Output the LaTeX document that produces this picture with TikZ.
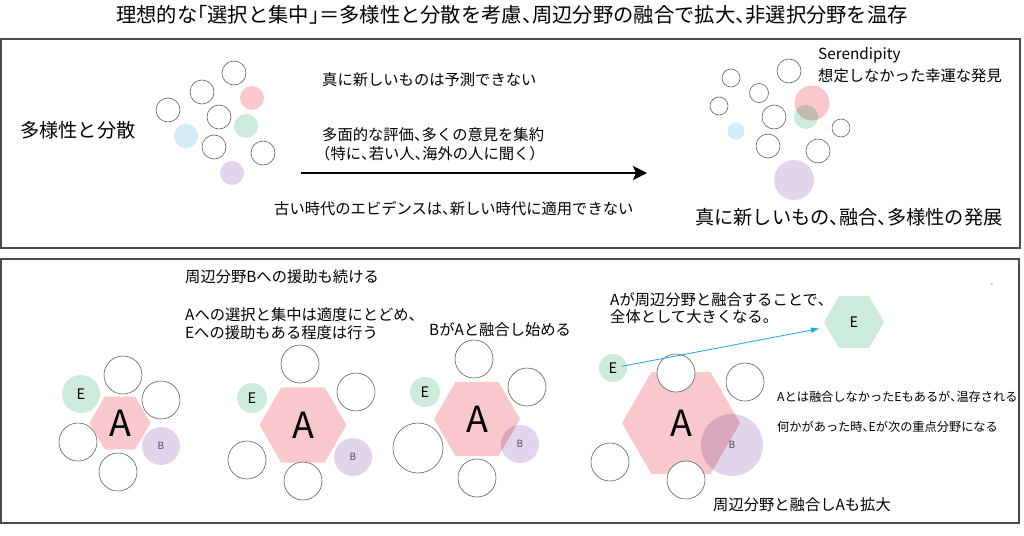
\documentclass[tikz,border=0pt]{standalone}
\usepackage{fontspec}
\setmainfont{Noto Sans CJK JP}
\usetikzlibrary{shapes.geometric,arrows.meta}
\newcommand\jtc{\makebox[0.5em][l]{、}}
\newcommand\jtk{\makebox[0.5em][l]{。}}
\newcommand\jlq{\makebox[0.5em][r]{「}}
\newcommand\jrq{\makebox[0.5em][l]{」}}
\definecolor{pk}{RGB}{248,200,204}
\definecolor{gr}{RGB}{205,235,218}
\definecolor{bl}{RGB}{211,234,248}
\definecolor{pu}{RGB}{224,213,234}
\definecolor{ln}{RGB}{95,95,95}
\definecolor{fr}{RGB}{75,75,75}
\definecolor{cy}{RGB}{41,171,226}
\definecolor{bt}{RGB}{100,88,112}
\tikzset{
 ring/.style={circle,draw=ln,line width=0.6pt,fill=white,inner sep=0pt,minimum size=#1},
 blob/.style 2 args={circle,fill=#1,blend mode=multiply,inner sep=0pt,minimum size=#2},
 hexa/.style 2 args={regular polygon,regular polygon sides=6,fill=#1,blend mode=multiply,inner sep=0pt,minimum size=#2},
 txt/.style={anchor=west,inner sep=0pt,font=\fontsize{15.3}{18}\selectfont},
 big/.style={anchor=west,inner sep=0pt,font=\fontsize{19.2}{22}\selectfont},
 small/.style={anchor=west,inner sep=0pt,font=\fontsize{12.2}{14}\selectfont},
 boxline/.style={draw=fr,line width=1.3pt},
 bigA/.style={font=\fontsize{36}{38}\selectfont},
 lblE/.style={font=\fontsize{14.5}{16}\selectfont},
 lblB/.style={font=\fontsize{10}{11}\selectfont,text=bt}
}
\begin{document}
\begin{tikzpicture}[x=1pt,y=-1pt]
\useasboundingbox (0,0) rectangle (1024,535);
% frames
\draw[boxline] (1,39) rectangle (1020,248);
\draw[boxline] (1,259) rectangle (1019,523);
% title
\node[inner sep=0pt,font=\fontsize{20.3}{22}\selectfont] (title) at (512,15) {理想的な\jlq 選択と集中\jrq ＝多様性と分散を考慮\jtc 周辺分野の融合で拡大\jtc 非選択分野を温存};
% ---------- top box ----------
\node[big] (tdiv) at (20,130) {多様性と分散};
\node[ring=24pt] (tl1) at (234,73) {};
\node[ring=24pt] (tl2) at (202,92) {};
\node[ring=24pt] (tl3) at (168,110) {};
\node[ring=24pt] (tl4) at (219,117) {};
\node[ring=24pt] (tl5) at (214,147) {};
\node[ring=24pt] (tl6) at (263,153) {};
\node[blob={pk}{24pt}] (tlp) at (252,98) {};
\node[blob={gr}{24pt}] (tlg) at (246,126) {};
\node[blob={bl}{24pt}] (tlb) at (186,136) {};
\node[blob={pu}{24pt}] (tlu) at (232,173) {};
\node[txt] (t1) at (322,80) {真に新しいものは予測できない};
\node[txt] (t2) at (322,135) {多面的な評価\jtc 多くの意見を集約};
\node[txt] (t3) at (315,154) {（特に\jtc 若い人\jtc 海外の人に聞く）};
\node[txt] (t4) at (274,209) {古い時代のエビデンスは\jtc 新しい時代に適用できない};
\coordinate (as) at (301,173);
\coordinate (ae) at (647,173);
\draw[line width=2pt,-{Stealth[length=14pt,width=14pt,inset=3pt]}] (as) -- (ae);
% right cluster
\node[ring=18pt] (tr1) at (731,78) {};
\node[ring=24pt] (tr2) at (789,71) {};
\node[ring=19pt] (tr3) at (759,93) {};
\node[ring=18pt] (tr4) at (719,106) {};
\node[ring=24pt] (tr5) at (774,117) {};
\node[ring=18pt] (tr6) at (841,128) {};
\node[ring=24pt] (tr7) at (768,146) {};
\node[ring=24pt] (tr8) at (818,151) {};
\node[blob={pk}{35pt}] (trp) at (812,103) {};
\node[blob={gr}{24pt}] (trg) at (806,117) {};
\node[blob={bl}{17pt}] (trb) at (736,131) {};
\node[blob={pu}{40pt}] (tru) at (794,180) {};
\node[txt] (s1) at (818,55) {Serendipity};
\node[txt] (s2) at (818,76) {想定しなかった幸運な発見};
\node[big] (s3) at (695,217) {真に新しいもの\jtc 融合\jtc 多様性の発展};
% ---------- bottom box ----------
\node[txt] (b1) at (185,277) {周辺分野Bへの援助も続ける};
\node[txt] (b2) at (185,315) {Aへの選択と集中は適度にとどめ\jtc};
\node[txt] (b3) at (185,333) {Eへの援助もある程度は行う};
\node[txt] (b4) at (429,330) {BがAと融合し始める};
\node[txt] (b5) at (610,300) {Aが周辺分野と融合することで\jtc};
\node[txt] (b6) at (610,317) {全体として大きくなる\jtk};
\node[small] (b7) at (777,397) {Aとは融合しなかったEもあるが\jtc 温存される};
\node[small] (b8) at (777,427) {何かがあった時\jtc Eが次の重点分野になる};
\node[txt] (b9) at (713,505) {周辺分野と融合しAも拡大};
\node[inner sep=0pt,font=\fontsize{4}{4}\selectfont,text=gray] (tiny) at (992,284) {e};
% group 1
\node[hexa={pk}{61pt},bigA] (ha1) at (120,423) {A};
\node[blob={gr}{38pt},lblE] (e1) at (81,394) {E};
\node[ring=38pt] (g1a) at (123,375) {};
\node[ring=38pt] (g1b) at (161,400) {};
\node[ring=38pt] (g1c) at (78,442) {};
\node[ring=38pt] (g1d) at (118,472) {};
\node[blob={pu}{38pt},lblB] (bb1) at (161,446) {B};
% group 2
\node[hexa={pk}{87pt},bigA] (ha2) at (303,425) {A};
\node[blob={gr}{30pt},lblE] (e2) at (252,398) {E};
\node[ring=38pt] (g2a) at (300,364) {};
\node[ring=38pt] (g2b) at (356,392) {};
\node[ring=38pt] (g2c) at (247,460) {};
\node[ring=38pt] (g2d) at (303,481) {};
\node[blob={pu}{38pt},lblB] (bb2) at (353,457) {B};
% group 3
\node[hexa={pk}{86pt},bigA] (ha3) at (477,419) {A};
\node[blob={gr}{30pt},lblE] (e3) at (425,392) {E};
\node[ring=38pt] (g3a) at (474,359) {};
\node[ring=38pt] (g3b) at (527,387) {};
\node[ring=50pt] (g3c) at (418,448) {};
\node[ring=38pt] (g3d) at (477,478) {};
\node[blob={pu}{38pt},lblB] (bb3) at (520,444) {B};
% group 4
\node[hexa={pk}{118pt},bigA] (ha4) at (681,423) {A};
\node[ring=38pt] (g4a) at (676,373) {};
\node[ring=38pt] (g4b) at (745,382) {};
\node[ring=38pt] (g4c) at (610,462) {};
\node[ring=38pt] (g4d) at (686,480) {};
\node[blob={pu}{62pt},lblB] (bb4) at (732,445) {B};
\node[blob={gr}{28pt},lblE] (e4) at (613,368) {E};
\node[hexa={gr}{60pt},lblE] (he) at (854,322) {E};
\draw[cy,line width=0.9pt,-{Latex[length=9pt,width=6pt]},shorten <=9pt,shorten >=7pt] (e4.center) -- (he);
\end{tikzpicture}
\end{document}
